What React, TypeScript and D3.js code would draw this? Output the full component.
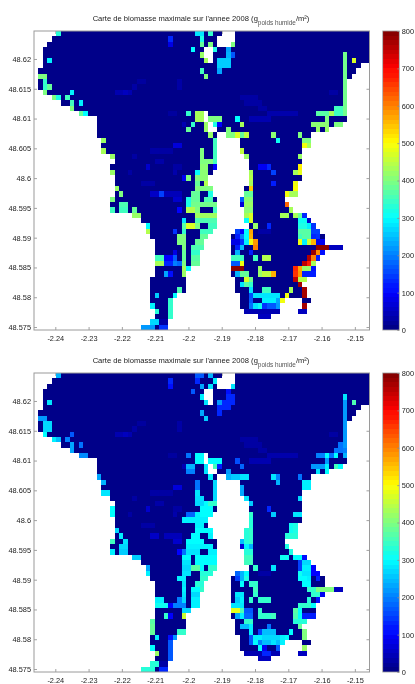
import * as d3 from "d3";
import { useEffect, useRef } from "react";

const xTicks = [-2.24, -2.23, -2.22, -2.21, -2.2, -2.19, -2.18, -2.17, -2.16, -2.15];
const yTicks = [48.62, 48.615, 48.61, 48.605, 48.6, 48.595, 48.59, 48.585, 48.58, 48.575];
const barTicks = [0, 100, 200, 300, 400, 500, 600, 700, 800];
const lonRange = [-2.2464, -2.1456];
const latRange = [48.6247, 48.5745];
const nCols = 75;
const nRows = 56;
const baseValue = 8;

// water mask: wet cols per grid row, [from, to)
const landSpans = [
  [[5, 42], [45, 75]], [[4, 41], [45, 75]], [[3, 41], [44, 75]], [[2, 38], [40, 75]],
  [[2, 38], [40, 75]], [[2, 39], [40, 75]], [[2, 73]], [[1, 72]],
  [[1, 71]], [[1, 70]], [[1, 70]], [[2, 70]],
  [[4, 70]], [[6, 70]], [[8, 70]], [[10, 38], [39, 70]],
  [[14, 38], [39, 70]], [[14, 39], [40, 69]], [[14, 39], [41, 66]], [[14, 41], [43, 62]],
  [[15, 41], [46, 62]], [[15, 41], [46, 62]], [[15, 41], [46, 60]], [[17, 41], [47, 60]],
  [[18, 41], [48, 60]], [[17, 41], [48, 60]], [[17, 40], [48, 60]], [[18, 39], [48, 60]],
  [[18, 39], [48, 59]], [[18, 40], [47, 59]], [[18, 40], [47, 59]], [[17, 41], [46, 56]],
  [[17, 41], [46, 57]], [[17, 41], [47, 58]], [[22, 41], [47, 61]], [[24, 41], [47, 62]],
  [[25, 41], [48, 63]], [[25, 40], [45, 64]], [[26, 39], [44, 65]], [[27, 38], [44, 65]],
  [[27, 38], [44, 69]], [[27, 37], [44, 65]], [[27, 37], [44, 64]], [[27, 37], [44, 63]],
  [[27, 35], [44, 63]], [[27, 34], [44, 63]], [[26, 34], [45, 61]], [[26, 34], [45, 60]],
  [[26, 34], [45, 61]], [[26, 32], [46, 61]], [[26, 31], [46, 56], [60, 62]], [[26, 31], [46, 55], [60, 61]],
  [[27, 31], [47, 55], [59, 61]], [[27, 31], [50, 53]], [[26, 30]], [[24, 30]],
];

// faint speckle in both years: [row, fromCol, toCol, value]
const sharedFaint = [
  [9, 23, 24, 25], [9, 32, 32, 30], [10, 22, 22, 30], [10, 32, 32, 30], [11, 18, 21, 38], [11, 20, 20, 50],
  [11, 66, 67, 28], [12, 46, 49, 28], [13, 47, 50, 28], [14, 50, 51, 28], [15, 52, 58, 35], [15, 30, 31, 25],
  [16, 48, 52, 38], [17, 33, 33, 40], [21, 31, 32, 70], [22, 26, 27, 30], [22, 28, 30, 28], [23, 22, 22, 28],
  [24, 27, 28, 32], [25, 25, 25, 60], [25, 31, 32, 28], [26, 21, 21, 28], [26, 31, 31, 35], [27, 33, 33, 90],
  [28, 24, 26, 30], [30, 26, 27, 55], [30, 29, 32, 45], [31, 31, 32, 60], [33, 32, 32, 100], [37, 50, 52, 30],
  [52, 47, 54, 40], [53, 50, 52, 50], [52, 59, 60, 50], [54, 28, 29, 30],
];

const cells2008a = [
  [0, 5, 5, 330], [5, 3, 3, 290], [8, 1, 2, 400], [9, 2, 2, 340], [10, 2, 2, 340], [10, 3, 3, 380], [11, 2, 2, 400],
  [11, 8, 8, 290], [12, 4, 4, 400], [12, 5, 5, 320], [12, 7, 7, 350], [13, 8, 8, 350], [14, 8, 8, 400], [13, 10, 10, 290],
  [15, 10, 10, 380], [15, 11, 11, 300], [20, 15, 15, 420], [22, 15, 15, 430], [23, 17, 17, 420], [26, 17, 17, 420],
  [1, 30, 30, 130], [2, 30, 30, 80], [0, 36, 37, 280], [0, 39, 39, 340], [1, 37, 37, 320], [2, 37, 37, 380], [2, 39, 39, 400],
  [3, 35, 35, 300], [3, 40, 40, 320], [4, 37, 37, 420], [5, 38, 38, 430], [7, 37, 37, 350], [8, 38, 38, 400],
  [2, 44, 44, 400], [3, 43, 43, 230], [4, 43, 43, 240], [4, 44, 44, 170], [5, 41, 43, 260], [6, 41, 43, 260], [7, 41, 41, 230],
  [5, 71, 71, 470], [4, 69, 15, 390],
  [14, 67, 68, 350], [15, 63, 65, 370], [15, 66, 66, 430], [15, 67, 68, 350], [16, 65, 65, 400],
  [17, 62, 65, 410], [17, 67, 68, 400], [18, 63, 63, 420], [18, 65, 65, 420],
  [19, 53, 53, 410], [19, 59, 59, 400], [19, 43, 44, 400], [19, 45, 45, 470], [19, 46, 46, 380], [19, 47, 47, 450],
  [20, 54, 54, 310], [20, 60, 61, 400], [21, 60, 60, 490], [21, 61, 61, 430], [22, 46, 46, 450], [23, 47, 47, 420], [23, 59, 59, 420],
  [25, 59, 59, 510], [25, 50, 51, 90], [25, 52, 52, 130], [26, 53, 53, 150], [26, 58, 58, 430], [26, 59, 59, 480], [26, 48, 48, 430], [27, 48, 48, 440],
  [15, 36, 37, 430], [16, 36, 37, 430], [15, 34, 34, 340], [16, 39, 41, 400], [16, 45, 45, 300],
  [17, 35, 35, 340], [17, 38, 38, 420], [17, 40, 40, 320], [17, 41, 41, 100], [17, 46, 46, 430],
  [18, 34, 34, 380], [18, 38, 38, 420], [18, 43, 43, 400], [19, 39, 39, 420],
  [20, 40, 40, 350], [21, 40, 40, 350], [22, 40, 40, 350], [23, 40, 40, 350], [24, 40, 40, 350],
  [22, 37, 37, 400], [23, 37, 37, 400], [24, 37, 39, 400], [25, 37, 38, 410], [25, 40, 40, 100], [26, 37, 38, 410], [27, 37, 38, 410],
  [26, 36, 36, 300], [27, 36, 36, 400], [27, 34, 34, 400],
  [28, 36, 36, 380], [28, 38, 38, 440], [29, 36, 39, 400], [29, 18, 18, 420], [30, 19, 19, 400], [30, 35, 36, 380], [30, 39, 39, 320], [30, 28, 28, 150],
  [31, 17, 17, 400], [31, 34, 34, 320], [31, 35, 36, 380], [31, 38, 39, 360],
  [32, 19, 20, 360], [32, 34, 34, 320], [32, 35, 40, 390],
  [33, 17, 17, 350], [33, 19, 20, 350], [33, 22, 22, 380], [33, 34, 35, 440], [33, 36, 36, 400], [33, 40, 40, 350],
  [34, 22, 23, 420], [34, 36, 40, 425], [35, 33, 33, 280], [35, 36, 40, 360],
  [36, 25, 25, 300], [36, 33, 34, 370], [36, 35, 35, 470], [36, 34, 34, 470], [36, 36, 36, 400], [36, 39, 40, 350],
  [37, 25, 25, 440], [37, 31, 31, 140], [37, 33, 33, 340], [37, 37, 39, 350],
  [38, 32, 33, 400], [38, 37, 38, 380], [39, 32, 33, 400], [39, 36, 37, 380], [40, 33, 33, 400], [40, 35, 37, 360],
  [41, 33, 33, 380], [41, 35, 36, 340], [41, 31, 31, 80], [42, 33, 33, 380], [42, 35, 36, 370], [42, 27, 28, 350], [42, 29, 30, 100], [42, 31, 31, 170],
  [43, 33, 33, 400], [43, 35, 36, 380], [43, 27, 28, 430], [43, 29, 30, 130], [43, 31, 31, 200], [43, 32, 32, 180],
  [44, 33, 33, 430], [44, 34, 34, 300], [45, 33, 33, 420], [45, 29, 29, 230], [45, 30, 30, 110],
  [48, 32, 32, 360], [49, 27, 27, 260], [49, 31, 31, 300], [50, 30, 30, 340], [51, 30, 30, 340], [52, 30, 30, 340], [53, 30, 30, 340],
  [51, 26, 26, 290], [52, 27, 27, 330], [54, 26, 27, 270], [55, 24, 26, 220], [55, 28, 29, 140],
  [28, 48, 48, 430], [28, 53, 53, 120], [28, 58, 58, 490], [29, 48, 48, 540], [29, 58, 58, 500],
  [30, 47, 48, 380], [30, 56, 56, 490], [30, 57, 58, 430], [31, 46, 46, 170], [31, 47, 48, 410],
  [32, 46, 46, 70], [32, 47, 48, 420], [32, 56, 56, 620], [33, 47, 48, 410], [33, 57, 57, 430],
  [34, 47, 47, 430], [34, 48, 48, 470], [34, 55, 56, 430], [34, 58, 58, 430], [34, 59, 59, 380], [34, 60, 60, 130],
  [35, 47, 47, 300], [35, 48, 48, 470], [35, 59, 60, 310], [35, 61, 61, 60],
  [36, 49, 49, 420], [36, 52, 52, 130], [36, 59, 60, 320], [36, 61, 61, 290], [36, 62, 62, 140],
  [37, 45, 45, 150], [37, 46, 46, 100], [37, 47, 47, 300], [37, 48, 48, 570], [37, 59, 61, 370], [37, 62, 63, 150],
  [38, 45, 45, 120], [38, 46, 46, 200], [38, 47, 47, 300], [38, 48, 48, 560], [38, 59, 59, 350], [38, 60, 61, 370], [38, 62, 62, 130], [38, 63, 63, 140],
  [39, 44, 45, 80], [39, 46, 46, 140], [39, 47, 47, 290], [39, 48, 48, 490], [39, 49, 49, 580], [39, 59, 59, 490], [39, 60, 60, 290], [39, 61, 61, 460], [39, 62, 62, 560], [39, 63, 64, 90],
  [40, 45, 45, 120], [40, 46, 46, 250], [40, 49, 49, 600], [40, 63, 65, 790], [40, 66, 68, 50],
  [41, 45, 45, 240], [41, 48, 48, 120], [41, 62, 62, 780], [41, 63, 63, 590], [41, 64, 64, 110],
  [42, 44, 46, 350], [42, 49, 49, 350], [42, 51, 52, 440], [42, 61, 61, 760], [42, 62, 62, 600], [42, 63, 63, 120],
  [43, 44, 45, 170], [43, 46, 46, 490], [43, 60, 60, 750], [43, 61, 61, 680], [43, 62, 62, 430],
  [44, 44, 46, 790], [44, 50, 50, 420], [44, 58, 58, 670], [44, 59, 59, 570], [44, 60, 61, 420], [44, 62, 62, 110],
  [45, 45, 45, 240], [45, 46, 47, 380], [45, 50, 50, 420], [45, 51, 52, 450], [45, 53, 53, 560], [45, 58, 58, 660], [45, 59, 59, 580], [45, 60, 62, 120],
  [46, 47, 47, 470], [46, 48, 48, 390], [46, 58, 58, 750], [46, 59, 60, 440],
  [47, 46, 46, 280], [47, 47, 47, 370], [47, 48, 48, 340], [47, 59, 59, 770],
  [48, 48, 48, 280], [48, 51, 52, 350], [48, 57, 57, 430], [48, 60, 60, 770],
  [49, 48, 48, 160], [49, 49, 54, 280], [49, 56, 56, 490], [49, 60, 60, 770],
  [50, 48, 48, 170], [50, 51, 53, 290], [50, 54, 54, 230], [50, 55, 55, 490],
  [51, 48, 48, 190], [51, 49, 49, 280], [51, 50, 50, 310], [51, 51, 51, 140], [51, 52, 53, 170], [51, 54, 54, 220], [51, 60, 60, 770],
];

const cells2008b = [
  [0, 5, 5, 240], [5, 3, 3, 280], [8, 1, 2, 220], [9, 2, 3, 270], [10, 2, 3, 270], [11, 2, 2, 300], [12, 4, 4, 290], [12, 5, 5, 250], [12, 7, 7, 200],
  [11, 8, 8, 170], [13, 8, 8, 230], [14, 8, 8, 230], [13, 10, 10, 190], [15, 10, 11, 210], [19, 14, 14, 230], [20, 15, 15, 240], [22, 15, 16, 280], [25, 17, 17, 300], [26, 17, 17, 300],
  [1, 30, 30, 130], [2, 30, 30, 110], [0, 36, 37, 170], [0, 39, 39, 240], [1, 36, 36, 130], [1, 40, 40, 290], [2, 37, 37, 230], [2, 39, 39, 280], [2, 44, 44, 280],
  [3, 35, 35, 170], [3, 38, 38, 180], [3, 43, 43, 110], [4, 37, 37, 290], [4, 38, 38, 280], [4, 43, 44, 130], [5, 38, 38, 280], [5, 41, 41, 220], [5, 42, 44, 130],
  [6, 41, 41, 130], [6, 42, 43, 130], [7, 41, 41, 130], [7, 37, 37, 230], [8, 38, 38, 260],
  [4, 69, 4, 280], [5, 69, 13, 220], [13, 68, 68, 190], [14, 67, 68, 190], [14, 69, 69, 200],
  [15, 63, 64, 200], [15, 65, 65, 300], [15, 66, 66, 190], [15, 67, 67, 300], [15, 69, 69, 240], [16, 65, 65, 220],
  [17, 62, 64, 220], [17, 65, 65, 290], [17, 67, 67, 350], [17, 68, 68, 300], [18, 63, 63, 280], [18, 65, 65, 300], [5, 71, 71, 360],
  [15, 34, 34, 190], [15, 36, 37, 300], [16, 36, 37, 300], [16, 39, 41, 300], [16, 45, 45, 160],
  [17, 34, 35, 240], [17, 38, 38, 280], [17, 40, 40, 350], [17, 41, 41, 120], [17, 46, 46, 180],
  [18, 34, 35, 200], [18, 38, 38, 280], [18, 43, 43, 220], [19, 39, 39, 290], [19, 43, 43, 240], [19, 44, 45, 260], [19, 46, 47, 280],
  [19, 53, 53, 280], [19, 54, 54, 200], [19, 59, 59, 190], [20, 54, 54, 240], [20, 60, 61, 290], [20, 40, 40, 270], [20, 36, 36, 190],
  [21, 36, 36, 190], [21, 40, 40, 270], [21, 60, 61, 290], [21, 46, 46, 230], [22, 46, 46, 230], [22, 36, 36, 280], [22, 40, 40, 270],
  [23, 36, 37, 275], [23, 40, 40, 270], [23, 47, 47, 280], [23, 59, 59, 270], [24, 36, 37, 270], [24, 38, 38, 300], [24, 39, 40, 340], [24, 48, 48, 260],
  [25, 37, 39, 300], [25, 52, 52, 130], [26, 36, 36, 290], [26, 34, 35, 180], [26, 37, 39, 300], [26, 48, 48, 340], [26, 53, 53, 260], [26, 58, 59, 280],
  [27, 33, 34, 290], [27, 35, 38, 290], [27, 48, 48, 330], [28, 36, 37, 290], [28, 48, 48, 330],
  [28, 57, 57, 310], [28, 58, 58, 320], [29, 57, 57, 310], [29, 58, 58, 320], [29, 18, 18, 270], [29, 36, 39, 300], [29, 47, 47, 330], [29, 48, 48, 340],
  [30, 19, 19, 290], [30, 35, 36, 300], [30, 39, 39, 290], [30, 47, 47, 330], [30, 48, 48, 340], [30, 56, 58, 330],
  [31, 17, 17, 350], [31, 20, 20, 280], [31, 34, 37, 300], [31, 46, 46, 250], [31, 47, 47, 330], [31, 48, 48, 340],
  [32, 19, 20, 270], [32, 34, 39, 290], [32, 46, 46, 70], [32, 47, 47, 290], [32, 48, 48, 240], [32, 56, 56, 320],
  [33, 17, 17, 290], [33, 19, 20, 260], [33, 33, 33, 190], [33, 34, 36, 280], [33, 39, 40, 290], [33, 47, 48, 330], [33, 57, 57, 320],
  [34, 22, 23, 260], [34, 33, 34, 300], [34, 36, 40, 300], [34, 47, 48, 350], [34, 55, 56, 310], [34, 58, 59, 300], [34, 60, 60, 110],
  [35, 33, 34, 280], [35, 36, 40, 300], [35, 47, 48, 350], [35, 59, 59, 150], [35, 60, 61, 270],
  [36, 25, 25, 230], [36, 33, 34, 270], [36, 35, 36, 370], [36, 37, 37, 300], [36, 39, 40, 340], [36, 49, 49, 340], [36, 53, 53, 280], [36, 59, 59, 150], [36, 60, 61, 290], [36, 62, 62, 100],
  [37, 25, 25, 290], [37, 33, 34, 280], [37, 37, 39, 330], [37, 45, 45, 180], [37, 46, 46, 240], [37, 47, 47, 300], [37, 59, 59, 310], [37, 60, 61, 280], [37, 62, 63, 100],
  [38, 32, 33, 290], [38, 37, 38, 340], [38, 45, 45, 150], [38, 46, 46, 240], [38, 47, 47, 320], [38, 59, 60, 300], [38, 61, 61, 290], [38, 63, 63, 120],
  [39, 33, 33, 280], [39, 36, 37, 330], [39, 46, 46, 300], [39, 48, 49, 340], [39, 60, 61, 300],
  [40, 33, 33, 290], [40, 35, 36, 300], [40, 37, 37, 340], [40, 49, 49, 350], [40, 61, 62, 340], [40, 63, 66, 400], [40, 67, 68, 50],
  [41, 33, 33, 280], [41, 35, 36, 270], [41, 45, 46, 280], [41, 49, 49, 340], [41, 62, 63, 340], [41, 64, 64, 90],
  [42, 27, 28, 290], [42, 32, 32, 200], [42, 33, 33, 270], [42, 35, 36, 290], [42, 45, 45, 260], [42, 46, 46, 290], [42, 48, 48, 340], [42, 50, 52, 340], [42, 61, 61, 330], [42, 63, 63, 110],
  [43, 27, 29, 310], [43, 30, 30, 100], [43, 31, 33, 200], [43, 35, 36, 290], [43, 44, 46, 280], [43, 59, 61, 340], [43, 62, 62, 300],
  [44, 33, 34, 270], [44, 44, 45, 480], [44, 46, 46, 360], [44, 47, 48, 170], [44, 50, 50, 340], [44, 58, 58, 370], [44, 59, 59, 300],
  [45, 29, 29, 340], [45, 30, 30, 100], [45, 33, 33, 460], [45, 45, 45, 230], [45, 46, 46, 290], [45, 47, 48, 180], [45, 50, 52, 340], [45, 53, 53, 350], [45, 58, 58, 360], [45, 59, 59, 300], [45, 60, 62, 120],
  [46, 26, 26, 370], [46, 47, 48, 340], [46, 58, 60, 330], [47, 26, 26, 380], [47, 46, 47, 250], [47, 48, 48, 290], [47, 52, 52, 190], [47, 59, 59, 380],
  [48, 26, 26, 380], [48, 32, 33, 340], [48, 48, 48, 290], [48, 50, 50, 150], [48, 51, 53, 250], [48, 57, 57, 300], [48, 60, 60, 400],
  [49, 27, 27, 290], [49, 30, 30, 110], [49, 31, 31, 220], [49, 48, 48, 170], [49, 49, 50, 290], [49, 51, 54, 270], [49, 55, 55, 290], [49, 56, 56, 300], [49, 60, 60, 400],
  [50, 30, 30, 170], [50, 48, 48, 170], [50, 49, 49, 300], [50, 50, 50, 200], [50, 51, 52, 250], [50, 53, 53, 280], [50, 54, 54, 250], [50, 55, 55, 290],
  [51, 26, 26, 300], [51, 30, 30, 170], [51, 50, 50, 300], [51, 51, 51, 90], [51, 54, 54, 170], [51, 60, 60, 420],
  [52, 27, 27, 420], [52, 30, 30, 170], [52, 51, 52, 130], [53, 30, 30, 170], [54, 26, 27, 330], [55, 24, 26, 330], [55, 28, 29, 130],
];

const jet = d3
  .scaleLinear<string>()
  .domain([0, 100, 300, 500, 700, 800])
  .range(["#00007f", "#0000ff", "#00ffff", "#ffff00", "#ff0000", "#7f0000"]);

const colX = d3.scaleLinear().domain([0, nCols]).range(lonRange);
const rowY = d3.scaleLinear().domain([0, nRows]).range(latRange);

function buildGrid(patches: number[][]) {
  const grid = new Map<string, number>();
  landSpans.forEach((spans, r) => {
    spans.forEach(([a, b]) => {
      d3.range(a, b).forEach((c) => grid.set(`${r}-${c}`, baseValue));
    });
  });
  const put = (r: number, c: number, v: number) => {
    if (grid.has(`${r}-${c}`)) grid.set(`${r}-${c}`, v);
  };
  sharedFaint.forEach(([r, a, b, v]) => d3.range(a, b + 1).forEach((c) => put(r, c, v)));
  patches.forEach(([r, a, b, v]) => {
    // a few strips run down one column instead: [row, col, lastRow, v]
    if (b < a) d3.range(r, b + 1).forEach((rr) => put(rr, a, v));
    else d3.range(a, b + 1).forEach((c) => put(r, c, v));
  });
  return Array.from(grid, ([k, v]) => {
    const [r, c] = k.split("-").map(Number);
    return { r, c, v };
  });
}

const Panel = ({ top, patches }: { top: number; patches: number[][] }) => {
  const height = 299;
  const left = 34;
  const width = 335.5;
  const xRef = useRef<SVGGElement>(null);
  const yRef = useRef<SVGGElement>(null);
  const xTopRef = useRef<SVGGElement>(null);
  const yRightRef = useRef<SVGGElement>(null);
  const barRef = useRef<SVGGElement>(null);

  const x = d3.scaleLinear().domain(lonRange).range([left, left + width]);
  const y = d3.scaleLinear().domain(latRange).range([top, top + height]);
  const bar = d3.scaleLinear().domain([0, 800]).range([top + height, top]);
  const cells = buildGrid(patches);

  useEffect(() => {
    const style = (g: any) => {
      g.select(".domain").remove();
      g.selectAll("line").attr("stroke", "#8a8a8a").attr("stroke-width", 0.8);
      g.selectAll("text").attr("fill", "#222").style("font", "7.4px 'Liberation Sans', sans-serif");
    };
    d3.select(xRef.current)
      .call(d3.axisBottom(x).tickValues(xTicks).tickFormat((d) => String(d)).tickSize(-3).tickPadding(6) as any)
      .call(style);
    d3.select(yRef.current)
      .call(d3.axisLeft(y).tickValues(yTicks).tickFormat((d) => String(d)).tickSize(-3).tickPadding(3) as any)
      .call(style);
    d3.select(xTopRef.current)
      .call(d3.axisTop(x).tickValues(xTicks).tickFormat(() => "").tickSize(-3) as any)
      .call(style);
    d3.select(yRightRef.current)
      .call(d3.axisRight(y).tickValues(yTicks).tickFormat(() => "").tickSize(-3) as any)
      .call(style);
    d3.select(barRef.current)
      .call(d3.axisRight(bar).tickValues(barTicks).tickFormat((d) => String(d)).tickSize(-2).tickPadding(2.4) as any)
      .call(style);
  }, []);

  return (
    <g>
      <g filter="url(#softText)">
        <text x={201} y={top - 10.5} textAnchor="middle" fontSize={7.6} fill="#222" fontFamily="'Liberation Sans', sans-serif">
          Carte de biomasse maximale sur l'annee 2008 (g
          <tspan fontSize={6.4} dy={4} fill="#555">poids humide</tspan>
          <tspan dy={-4}>/m²)</tspan>
        </text>
        <g ref={xRef} transform={`translate(0,${top + height})`} />
        <g ref={yRef} transform={`translate(${left},0)`} />
        <g ref={xTopRef} transform={`translate(0,${top})`} />
        <g ref={yRightRef} transform={`translate(${left + width},0)`} />
      </g>
      <g filter="url(#soft)" shapeRendering="crispEdges">
        {cells.map((d) => (
          <rect
            key={`${d.r}-${d.c}`}
            x={x(colX(d.c))}
            y={y(rowY(d.r))}
            width={x(colX(d.c + 1)) - x(colX(d.c))}
            height={y(rowY(d.r + 1)) - y(rowY(d.r))}
            fill={jet(d.v)}
          />
        ))}
      </g>
      <rect x={left} y={top} width={width} height={height} fill="none" stroke="#9a9a9a" strokeWidth={1} />
      <g filter="url(#soft)" shapeRendering="crispEdges">
        {d3.range(64).map((i) => {
          const lo = (i / 64) * 800;
          const hi = ((i + 1) / 64) * 800;
          return <rect key={i} x={382.7} y={bar(hi)} width={16.6} height={bar(lo) - bar(hi)} fill={jet((lo + hi) / 2)} />;
        })}
      </g>
      <rect x={382.7} y={top} width={16.6} height={height} fill="none" stroke="#9a9a9a" strokeWidth={0.8} />
      <g ref={barRef} filter="url(#softText)" transform="translate(399.3,0)" />
    </g>
  );
};

export default function App() {
  return (
    <svg width={415} height={684} style={{ position: "absolute", left: 0, top: 0 }}>
      <defs>
        <filter id="soft" x="-2%" y="-2%" width="104%" height="104%">
          <feGaussianBlur stdDeviation="0.35" />
        </filter>
        <filter id="softText" x="-2%" y="-2%" width="104%" height="104%">
          <feGaussianBlur stdDeviation="0.22" />
        </filter>
      </defs>
      <Panel top={31} patches={cells2008a} />
      <Panel top={373} patches={cells2008b} />
    </svg>
  );
}
